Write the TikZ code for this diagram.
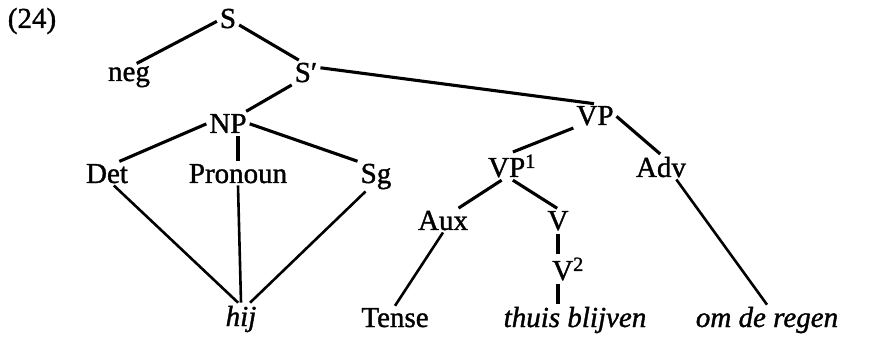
\documentclass[tikz,border=0pt]{standalone}
\usepackage{fontspec}
\setmainfont[FakeBold=1.2]{Liberation Serif}
\begin{document}
\begin{tikzpicture}[x=1pt,y=-1pt,
  lab/.style={anchor=base,inner sep=2pt,font=\fontsize{29}{32}\selectfont},
  ilab/.style={lab,font=\fontsize{29}{32}\selectfont\itshape},
  edge/.style={line width=3.1pt,shorten <=1pt,shorten >=1pt},
  thin/.style={line width=2.6pt}]
\useasboundingbox (0,0) rectangle (874,344);
\node[lab] (num) at (32,28) {(24)};
\node[lab] (S) at (228,28) {S};
\node[lab] (neg) at (129,81) {neg};
\node[lab] (Sp) at (306,82) {S′};
\node[lab] (NP) at (228,133) {NP};
\node[lab] (VP) at (595,125) {VP};
\node[lab] (Det) at (107,183) {Det};
\node[lab] (Pro) at (238,183) {Pronoun};
\node[lab] (Sg) at (376,183) {Sg};
\node[ilab,inner sep=3pt] (hij) at (241,326) {hij};
\node[lab] (VP1) at (512,177) {VP\textsuperscript{1}};
\node[lab] (Adv) at (661,177) {Adv};
\node[lab] (Aux) at (443,230) {Aux};
\node[lab] (V) at (558,230) {V};
\node[lab] (V2) at (568,280) {V\textsuperscript{2}};
\node[lab] (Tense) at (395,327) {Tense};
\node[ilab] (thuis) at (575,327) {thuis blijven};
\node[ilab] (om) at (767,327) {om de regen};
% connectors
\draw[edge] (S.193) -- (neg.62);
\draw[edge] (S.-30) -- (Sp.118);
\draw[edge] (Sp.20) -- (VP.north);
\draw[edge] (Sp.south west) -- (NP.34);
\draw[edge] (NP.west) -- (Det.46);
\draw[edge] (Pro.north) -- (Pro.north |- NP.south);
\draw[edge] (NP.east) -- (Sg.north west);
\draw[thin] (Det.-60) -- (hij.100);
\draw[thin] (Pro.south) -- (hij.north);
\draw[thin] (Sg.-125) -- (hij.61);
\draw[edge] (VP.south west) -- (VP1.north);
\draw[edge] (VP.east) -- (Adv.north);
\draw[edge] (VP1.235) -- (Aux.39);
\draw[edge] (VP1.south) -- (V.north);
\draw[edge] (V.south) -- (V.south |- V2.north);
\draw[edge] (V.south |- V2.south) -- (V.south |- thuis.north);
\draw[thin] (Aux.south) -- (Tense.north);
\draw[thin] (Adv.-39) -- (om.north);
\end{tikzpicture}
\end{document}
